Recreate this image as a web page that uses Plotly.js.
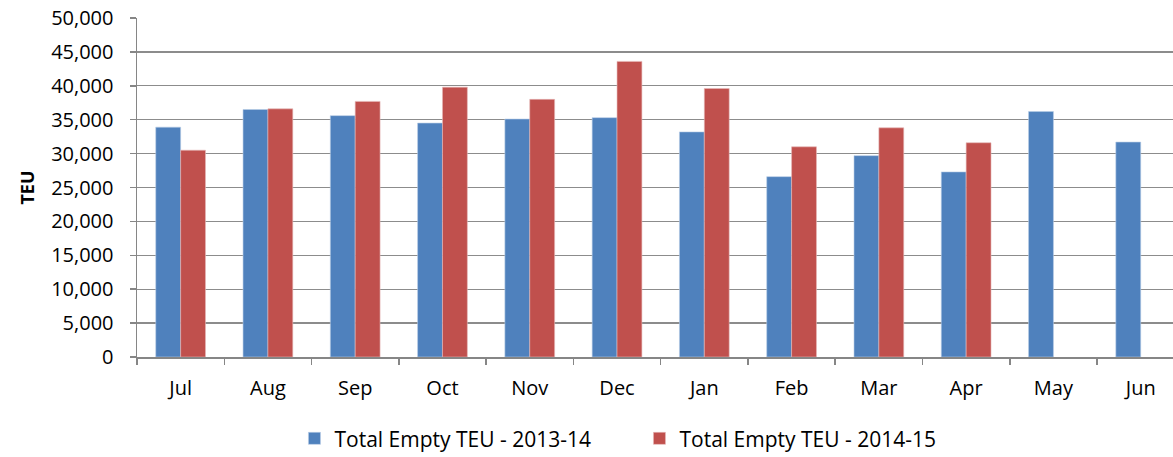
<!DOCTYPE html>
<html><head><meta charset="utf-8">
<script src="https://cdn.plot.ly/plotly-3.0.1.min.js"></script>
<style>html,body{margin:0;padding:0;background:#fff}#chart{width:1173px;height:457px}</style>
</head><body><div id="chart"></div>
<script>
const months = ["Jul","Aug","Sep","Oct","Nov","Dec","Jan","Feb","Mar","Apr","May","Jun"];
const teu2013_14 = [33900,36500,35600,34500,35100,35300,33200,26600,29700,27300,36200,31700];
const teu2014_15 = [30500,36600,37700,39800,38000,43600,39600,31000,33800,31600,null,null];
const seriesNames = ["Total Empty TEU - 2013-14","Total Empty TEU - 2014-15"];
const yTicks = [0,5000,10000,15000,20000,25000,30000,35000,40000,45000,50000];

const fontFam = "Open Sans, Noto Sans, sans-serif";
const traces = [
  {type:"bar", x:months, y:teu2013_14, name:seriesNames[0], marker:{color:"#4F81BD", line:{color:"#B9CDE5", width:0.6}}},
  {type:"bar", x:months, y:teu2014_15, name:seriesNames[1], marker:{color:"#C0504D", line:{color:"#E6B9B8", width:0.6}}}
];
const layout = {
  width:1173, height:457,
  margin:{l:137, r:0, t:18, b:100, autoexpand:false},
  paper_bgcolor:"#fff", plot_bgcolor:"#fff",
  barmode:"group", bargap:0.43, bargroupgap:0,
  font:{family:fontFam, size:20, color:"#000"},
  xaxis:{type:"category", range:[-0.5, 11.37], showline:true, linecolor:"#868686", linewidth:1.5,
    ticks:"outside", tickson:"boundaries", ticklen:6, tickcolor:"#868686", tickwidth:1.5,
    showgrid:false, tickfont:{size:20, family:fontFam}, ticklabelstandoff:12, automargin:false, fixedrange:true},
  yaxis:{range:[0,50000], tickvals:yTicks, tickformat:",d", showline:true, linecolor:"#868686", linewidth:1.5,
    ticks:"outside", ticklen:6, tickcolor:"#868686", tickwidth:1.5,
    showgrid:true, gridcolor:"#8C8C8C", gridwidth:1.3, zeroline:false, automargin:false,
    tickfont:{size:20, family:fontFam}, ticklabelstandoff:12,
    title:{text:"<b>TEU</b>", font:{size:18, family:fontFam}, standoff:12}},
  legend:{orientation:"h", x:0.485, xanchor:"center", yref:"container", y:0.04, yanchor:"middle",
    font:{size:21, family:fontFam}, itemwidth:30, traceorder:"normal", entrywidth:300},
  showlegend:true
};
Plotly.newPlot("chart", traces, layout, {displayModeBar:false, staticPlot:true});
</script></body></html>
